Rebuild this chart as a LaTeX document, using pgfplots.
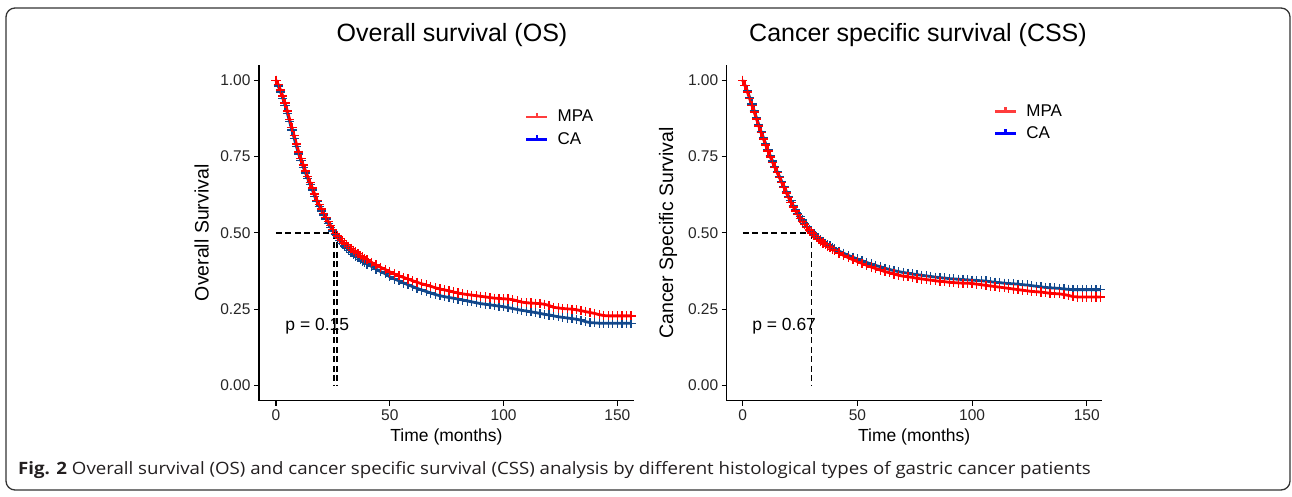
\documentclass[border=0pt]{standalone}
\usepackage{fontspec}
\setmainfont{Liberation Sans}
\newfontfamily\capfont{Open Sans}
\usepackage{pgfplots}
\pgfplotsset{compat=1.18}
\usepackage{pgfplotstable}

\definecolor{kmred}{RGB}{255,0,0}
\definecolor{kmblue}{RGB}{18,72,140}
\definecolor{lgred}{RGB}{255,60,60}
\definecolor{lgblue}{RGB}{0,0,255}
\definecolor{capgray}{RGB}{35,31,32}

% OS, MPA
\pgfplotstableread[row sep=\\]{
t s\\
0 1.000\\ 1 0.986\\ 2 0.968\\ 3 0.948\\ 4 0.925\\ 5 0.899\\ 6 0.872\\ 7 0.845\\ 8 0.818\\ 9 0.791\\
10 0.765\\ 11 0.743\\ 12 0.722\\ 13 0.703\\ 14 0.684\\ 15 0.665\\ 16 0.647\\ 17 0.627\\ 18 0.607\\ 19 0.592\\
20 0.578\\ 21 0.564\\ 22 0.551\\ 23 0.537\\ 24 0.524\\ 25 0.511\\ 26 0.499\\ 27 0.490\\ 28 0.482\\ 29 0.474\\
30 0.467\\ 31 0.461\\ 32 0.455\\ 33 0.449\\ 34 0.443\\ 35 0.437\\ 36 0.432\\ 37 0.426\\ 38 0.421\\ 39 0.416\\
40 0.412\\ 42 0.403\\ 44 0.395\\ 46 0.387\\ 48 0.380\\ 50 0.372\\ 52 0.365\\ 54 0.359\\ 56 0.354\\ 58 0.349\\
60 0.343\\ 62 0.338\\ 64 0.333\\ 66 0.329\\ 68 0.325\\ 70 0.320\\ 72 0.316\\ 74 0.313\\ 76 0.310\\ 78 0.306\\
80 0.303\\ 82 0.300\\ 84 0.298\\ 86 0.296\\ 88 0.294\\ 90 0.292\\ 92 0.290\\ 94 0.288\\ 96 0.286\\ 98 0.285\\
100 0.284\\ 102 0.283\\ 104 0.281\\ 106 0.277\\ 108 0.273\\ 110 0.271\\ 112 0.270\\ 114 0.269\\ 116 0.268\\ 118 0.266\\
120 0.262\\ 122 0.256\\ 124 0.254\\ 126 0.252\\ 128 0.251\\ 130 0.250\\ 132 0.248\\ 134 0.245\\ 136 0.242\\ 138 0.239\\
140 0.236\\ 142 0.232\\ 144 0.229\\ 146 0.228\\ 148 0.228\\ 150 0.228\\ 152 0.228\\ 154 0.228\\ 156 0.228\\
}\osmpa

% OS, CA
\pgfplotstableread[row sep=\\]{
t s\\
0 1.000\\ 1 0.981\\ 2 0.962\\ 3 0.941\\ 4 0.918\\ 5 0.892\\ 6 0.865\\ 7 0.837\\ 8 0.810\\ 9 0.783\\
10 0.758\\ 11 0.736\\ 12 0.715\\ 13 0.696\\ 14 0.677\\ 15 0.658\\ 16 0.640\\ 17 0.620\\ 18 0.602\\ 19 0.587\\
20 0.572\\ 21 0.558\\ 22 0.545\\ 23 0.531\\ 24 0.518\\ 25 0.506\\ 26 0.494\\ 27 0.484\\ 28 0.474\\ 29 0.465\\
30 0.457\\ 31 0.450\\ 32 0.443\\ 33 0.436\\ 34 0.430\\ 35 0.424\\ 36 0.419\\ 37 0.413\\ 38 0.408\\ 39 0.403\\
40 0.398\\ 42 0.390\\ 44 0.381\\ 46 0.373\\ 48 0.366\\ 50 0.356\\ 52 0.349\\ 54 0.343\\ 56 0.336\\ 58 0.330\\
60 0.324\\ 62 0.318\\ 64 0.313\\ 66 0.308\\ 68 0.303\\ 70 0.298\\ 72 0.294\\ 74 0.291\\ 76 0.288\\ 78 0.286\\
80 0.283\\ 82 0.280\\ 84 0.277\\ 86 0.274\\ 88 0.271\\ 90 0.268\\ 92 0.266\\ 94 0.264\\ 96 0.262\\ 98 0.260\\
100 0.258\\ 102 0.255\\ 104 0.252\\ 106 0.249\\ 108 0.246\\ 110 0.244\\ 112 0.241\\ 114 0.239\\ 116 0.236\\ 118 0.233\\
120 0.231\\ 122 0.228\\ 124 0.225\\ 126 0.223\\ 128 0.221\\ 130 0.219\\ 132 0.217\\ 134 0.214\\ 136 0.209\\ 138 0.206\\
140 0.205\\ 142 0.204\\ 144 0.204\\ 146 0.204\\ 148 0.204\\ 150 0.204\\ 152 0.204\\ 154 0.204\\ 156 0.204\\
}\osca

% CSS, MPA
\pgfplotstableread[row sep=\\]{
t s\\
0 1.000\\ 1 0.982\\ 2 0.962\\ 3 0.940\\ 4 0.918\\ 5 0.896\\ 6 0.873\\ 7 0.850\\ 8 0.828\\ 9 0.808\\
10 0.788\\ 11 0.768\\ 12 0.749\\ 13 0.731\\ 14 0.714\\ 15 0.697\\ 16 0.681\\ 17 0.664\\ 18 0.648\\ 19 0.631\\
20 0.615\\ 21 0.600\\ 22 0.585\\ 23 0.572\\ 24 0.559\\ 25 0.548\\ 26 0.538\\ 27 0.528\\ 28 0.518\\ 29 0.509\\
30 0.500\\ 31 0.492\\ 32 0.485\\ 33 0.479\\ 34 0.473\\ 35 0.467\\ 36 0.461\\ 37 0.456\\ 38 0.451\\ 39 0.446\\
40 0.442\\ 42 0.434\\ 44 0.426\\ 46 0.419\\ 48 0.412\\ 50 0.406\\ 52 0.400\\ 54 0.394\\ 56 0.388\\ 58 0.383\\
60 0.378\\ 62 0.373\\ 64 0.369\\ 66 0.365\\ 68 0.361\\ 70 0.358\\ 72 0.356\\ 74 0.354\\ 76 0.351\\ 78 0.349\\
80 0.347\\ 82 0.345\\ 84 0.343\\ 86 0.341\\ 88 0.340\\ 90 0.338\\ 92 0.337\\ 94 0.336\\ 96 0.335\\ 98 0.335\\
100 0.334\\ 102 0.332\\ 104 0.330\\ 106 0.328\\ 108 0.326\\ 110 0.324\\ 112 0.322\\ 114 0.320\\ 116 0.318\\ 118 0.316\\
120 0.314\\ 122 0.312\\ 124 0.310\\ 126 0.308\\ 128 0.307\\ 130 0.306\\ 132 0.304\\ 134 0.302\\ 136 0.301\\ 138 0.300\\
140 0.298\\ 142 0.295\\ 144 0.291\\ 146 0.290\\ 148 0.290\\ 150 0.290\\ 152 0.290\\ 154 0.290\\ 156 0.290\\
}\cssmpa

% CSS, CA
\pgfplotstableread[row sep=\\]{
t s\\
0 1.000\\ 1 0.983\\ 2 0.965\\ 3 0.944\\ 4 0.922\\ 5 0.900\\ 6 0.877\\ 7 0.854\\ 8 0.832\\ 9 0.812\\
10 0.792\\ 11 0.772\\ 12 0.753\\ 13 0.735\\ 14 0.718\\ 15 0.701\\ 16 0.685\\ 17 0.668\\ 18 0.652\\ 19 0.636\\
20 0.620\\ 21 0.605\\ 22 0.590\\ 23 0.577\\ 24 0.564\\ 25 0.553\\ 26 0.542\\ 27 0.531\\ 28 0.521\\ 29 0.512\\
30 0.503\\ 31 0.496\\ 32 0.489\\ 33 0.483\\ 34 0.477\\ 35 0.471\\ 36 0.466\\ 37 0.461\\ 38 0.457\\ 39 0.452\\
40 0.448\\ 42 0.440\\ 44 0.433\\ 46 0.426\\ 48 0.420\\ 50 0.414\\ 52 0.409\\ 54 0.403\\ 56 0.398\\ 58 0.393\\
60 0.389\\ 62 0.384\\ 64 0.380\\ 66 0.376\\ 68 0.373\\ 70 0.370\\ 72 0.368\\ 74 0.365\\ 76 0.363\\ 78 0.361\\
80 0.359\\ 82 0.357\\ 84 0.355\\ 86 0.353\\ 88 0.352\\ 90 0.350\\ 92 0.349\\ 94 0.348\\ 96 0.347\\ 98 0.346\\
100 0.345\\ 102 0.344\\ 104 0.343\\ 106 0.342\\ 108 0.340\\ 110 0.338\\ 112 0.337\\ 114 0.335\\ 116 0.334\\ 118 0.333\\
120 0.332\\ 122 0.330\\ 124 0.329\\ 126 0.327\\ 128 0.325\\ 130 0.323\\ 132 0.321\\ 134 0.320\\ 136 0.319\\ 138 0.318\\
140 0.316\\ 142 0.315\\ 144 0.314\\ 146 0.314\\ 148 0.314\\ 150 0.314\\ 152 0.314\\ 154 0.314\\ 156 0.314\\
}\cssca

\pgfplotsset{
  kmaxis/.style={
    scale only axis, width=375pt, height=335.7pt,
    ymin=-0.05, ymax=1.05,
    axis x line*=bottom, axis y line*=left,
    axis line style={line width=1.2pt, black},
    tick style={line width=1.2pt, black},
    tick align=outside, major tick length=5pt,
    xtick={0,50,100,150}, xticklabels={0,50,100,150},
    ytick={0,0.25,0.5,0.75,1}, yticklabels={0.00,0.25,0.50,0.75,1.00},
    ticklabel style={font=\fontsize{15.5}{18}\selectfont, text=black!85},
    /pgf/number format/assume math mode=true,
    xlabel style={font=\fontsize{17.5}{20}\selectfont, at={(axis description cs:0.5,-0.107)}, anchor=center},
    ylabel style={font=\fontsize{19.5}{22}\selectfont, anchor=center},
    legend style={draw=none, fill=none, font=\fontsize{17}{20}\selectfont,
      row sep=5pt, anchor=north west, inner sep=0pt,
      /tikz/every odd column/.append style={column sep=9pt}},
    legend cell align=left,
  },
  redkey/.style={legend image code/.code={
      \fill[lgred] (0pt,-0.85pt) rectangle (20pt,0.85pt);
      \fill[lgred] (9.4pt,0pt) rectangle (10.6pt,4pt);}},
  bluekey/.style={legend image code/.code={
      \fill[lgblue] (0pt,-0.85pt) rectangle (20pt,0.85pt);
      \fill[lgblue] (9.4pt,0pt) rectangle (10.6pt,4pt);}},
  kmline/.style={line width=2.8pt, mark=+, mark size=4.6pt,
    mark options={line width=1.3pt}},
  medline/.style={black, line width=1.6pt, dash pattern=on 6pt off 3.5pt, forget plot},
}

\begin{document}
\begin{tikzpicture}
\useasboundingbox (0pt,0pt) rectangle (1292pt,496pt);
\draw[rounded corners=9pt, line width=1.3pt, black!80] (6pt,6pt) rectangle (1290pt,488pt);

% ---------- OS ----------
\begin{axis}[kmaxis, at={(259pt,95.3pt)}, anchor=south west,
  xmin=-7.46, xmax=157.3,
  xlabel={Time (months)}, ylabel={Overall Survival},
  ylabel style={at={(axis description cs:-0.153,0.5)}},
  legend style={at={(axis description cs:0.712,0.872)}}]
\addlegendimage{redkey}
\addlegendentry{MPA}
\addlegendimage{bluekey}
\addlegendentry{CA}
\addplot[kmline, color=kmblue, forget plot] table[x=t,y=s]{\osca};
\addplot[kmline, color=kmred, forget plot] table[x=t,y=s]{\osmpa};
\addplot[medline] coordinates {(0,0.5) (26.9,0.5)};
\addplot[medline] coordinates {(25.6,0.5) (25.6,0)};
\addplot[medline] coordinates {(26.9,0.5) (26.9,0)};
\node[anchor=west, font=\fontsize{17.5}{20}\selectfont] at (axis cs:2.6,0.193) {p = 0.15};
\end{axis}

% ---------- CSS ----------
\begin{axis}[kmaxis, at={(726.7pt,95.3pt)}, anchor=south west,
  xmin=-7.0, xmax=156.5,
  xlabel={Time (months)}, ylabel={Cancer Specific Survival},
  ylabel style={at={(axis description cs:-0.156,0.5)}},
  legend style={at={(axis description cs:0.715,0.889)}}]
\addlegendimage{redkey}
\addlegendentry{MPA}
\addlegendimage{bluekey}
\addlegendentry{CA}
\addplot[kmline, color=kmblue, forget plot] table[x=t,y=s]{\cssca};
\addplot[kmline, color=kmred, forget plot] table[x=t,y=s]{\cssmpa};
\addplot[medline, line width=1.3pt] coordinates {(0,0.5) (30.1,0.5)};
\addplot[medline, line width=1.3pt] coordinates {(30.1,0.5) (30.1,0)};
\node[anchor=west, font=\fontsize{17.5}{20}\selectfont] at (axis cs:2.6,0.193) {p = 0.67};
\end{axis}

% titles
\node[font=\fontsize{25}{28}\selectfont] at (452pt,461pt) {Overall survival (OS)};
\node[font=\fontsize{25}{28}\selectfont] at (918pt,461pt) {Cancer specific survival (CSS)};

% caption
\node[anchor=west, inner sep=0pt, text=capgray] at (18pt,26pt)
  {\scalebox{1.098}[1.0]{\capfont\fontsize{17}{20}\selectfont\textbf{Fig. 2} Overall survival (OS) and cancer specific survival (CSS) analysis by different histological types of gastric cancer patients}};
\end{tikzpicture}
\end{document}
